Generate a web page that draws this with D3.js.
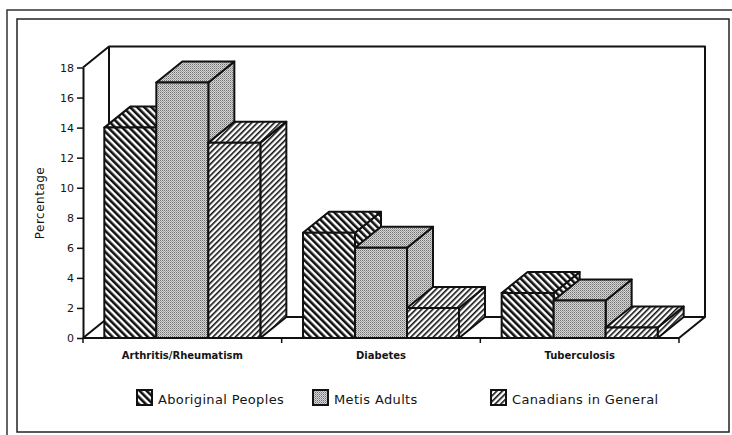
<!DOCTYPE html>
<html>
<head>
<meta charset="utf-8">
<script src="https://cdn.jsdelivr.net/npm/d3@7"></script>
<style>
    body { margin: 0; background: #fff; }
    svg { display: block; }
    text { font-family: "DejaVu Sans", Verdana, sans-serif; fill: #151515; }
</style>
</head>
<body>
<div id="my_dataviz"></div>
<script>
var categories = ["Arthritis/Rheumatism", "Diabetes", "Tuberculosis"];
var seriesNames = ["Aboriginal Peoples", "Metis Adults", "Canadians in General"];
var aboriginal = [14, 7, 3];
var metis = [17, 6, 2.5];
var canadians = [13, 2, 0.7];
var yTicks = [0, 2, 4, 6, 8, 10, 12, 14, 16, 18];

var W = 732, H = 435;
var depthX = 26, depthY = 21;   // 3d offset of the floor / bars

var svg = d3.select("#my_dataviz").append("svg")
    .attr("width", W)
    .attr("height", H);

// patterns for the fills
var defs = svg.append("defs");
function hatch(id, angle, period, thick) {
    var p = defs.append("pattern")
        .attr("id", id)
        .attr("patternUnits", "userSpaceOnUse")
        .attr("width", period)
        .attr("height", period)
        .attr("patternTransform", "rotate(" + angle + ")");
    p.append("rect").attr("width", period).attr("height", period).attr("fill", "#fff");
    p.append("rect").attr("width", thick).attr("height", period).attr("fill", "#111");
}
hatch("pat0", -45, 5, 2.6);
hatch("pat2", 45, 4, 1.6);
var dots = defs.append("pattern")
    .attr("id", "pat1")
    .attr("patternUnits", "userSpaceOnUse")
    .attr("width", 2)
    .attr("height", 2);
dots.append("rect").attr("width", 2).attr("height", 2).attr("fill", "#d6d6d6");
dots.append("rect").attr("width", 1).attr("height", 1).attr("fill", "#707070");
dots.append("rect").attr("x", 1).attr("y", 1).attr("width", 1).attr("height", 1).attr("fill", "#a0a0a0");

var fills = ["url(#pat0)", "url(#pat1)", "url(#pat2)"];

// frames
svg.append("path")
    .attr("d", "M7,436 L7,10 L733,10")
    .attr("fill", "none").attr("stroke", "#333").attr("stroke-width", 1.5);
svg.append("rect")
    .attr("x", 17).attr("y", 19).attr("width", 712).attr("height", 413)
    .attr("fill", "none").attr("stroke", "#222").attr("stroke-width", 1.5);

// scales
var x = d3.scaleBand().domain(categories).range([83, 679]).paddingInner(0).paddingOuter(0);
var xs = d3.scaleBand().domain(seriesNames).range([0, x.bandwidth()]).paddingInner(0).paddingOuter(0.41);
var y = d3.scaleLinear().domain([0, 18]).range([338, 67.5]);

var x0 = x.range()[0], x1 = x.range()[1];
var yb = y(0), yt = y(18);

// back wall + floor
var wall = svg.append("g")
    .attr("fill", "none").attr("stroke", "#111").attr("stroke-width", 2)
    .attr("stroke-linejoin", "round");
wall.append("path").attr("d",
    "M" + x0 + "," + yt + " L" + (x0 + depthX) + "," + (yt - depthY) +
    " L" + (x1 + depthX) + "," + (yt - depthY) +
    " L" + (x1 + depthX) + "," + (yb - depthY) +
    " L" + (x0 + depthX) + "," + (yb - depthY) +
    " L" + (x0 + depthX) + "," + (yt - depthY));
wall.append("path").attr("d",
    "M" + x0 + "," + yb + " L" + (x0 + depthX) + "," + (yb - depthY));
wall.append("path").attr("d",
    "M" + x1 + "," + yb + " L" + (x1 + depthX) + "," + (yb - depthY));

// 3d bars, left to right so the next bar hides the side face
var series = [aboriginal, metis, canadians];
var bars = svg.append("g")
    .attr("stroke", "#111").attr("stroke-width", 2).attr("stroke-linejoin", "round");
categories.forEach(function (c, i) {
    series.forEach(function (vals, s) {
        var bx = x(c) + xs(seriesNames[s]);
        var bw = xs.bandwidth();
        var top = y(vals[i]);
        // side face
        bars.append("path")
            .attr("fill", fills[s])
            .attr("d", "M" + (bx + bw) + "," + yb +
                " L" + (bx + bw + depthX) + "," + (yb - depthY) +
                " L" + (bx + bw + depthX) + "," + (top - depthY) +
                " L" + (bx + bw) + "," + top + " Z");
        // top face
        bars.append("path")
            .attr("fill", fills[s])
            .attr("d", "M" + bx + "," + top +
                " L" + (bx + depthX) + "," + (top - depthY) +
                " L" + (bx + bw + depthX) + "," + (top - depthY) +
                " L" + (bx + bw) + "," + top + " Z");
        // front face
        bars.append("rect")
            .attr("x", bx).attr("y", top)
            .attr("width", bw).attr("height", yb - top)
            .attr("fill", fills[s]);
    });
});

// y axis
var yAxis = svg.append("g")
    .attr("transform", "translate(" + x0 + ",0)")
    .call(d3.axisLeft(y).tickValues(yTicks).tickSize(6).tickSizeOuter(0).tickPadding(3));
yAxis.select(".domain").attr("stroke", "#111").attr("stroke-width", 2);
yAxis.selectAll(".tick line").attr("stroke", "#111").attr("stroke-width", 1.5);
yAxis.selectAll(".tick text")
    .style("font-family", "DejaVu Sans")
    .style("font-size", "11px")
    .attr("fill", "#151515");

// x axis: front edge of floor with ticks at band boundaries
svg.append("line")
    .attr("x1", x0).attr("x2", x1).attr("y1", yb).attr("y2", yb)
    .attr("stroke", "#111").attr("stroke-width", 2);
var bounds = categories.map(function (c) { return x(c); }).concat([x1]);
svg.selectAll(".xtick")
    .data(bounds)
    .enter().append("line")
    .attr("class", "xtick")
    .attr("x1", function (d) { return d; })
    .attr("x2", function (d) { return d; })
    .attr("y1", yb).attr("y2", yb + 5)
    .attr("stroke", "#111").attr("stroke-width", 1.5);
svg.selectAll(".xlabel")
    .data(categories)
    .enter().append("text")
    .attr("class", "xlabel")
    .attr("x", function (d) { return x(d) + x.bandwidth() / 2; })
    .attr("y", 359)
    .attr("text-anchor", "middle")
    .style("font-size", "10px")
    .style("font-weight", "bold")
    .text(function (d) { return d; });

// y label
svg.append("text")
    .attr("transform", "translate(44,203) rotate(-90)")
    .attr("text-anchor", "middle")
    .style("font-size", "12px")
    .style("letter-spacing", "0.5px")
    .text("Percentage");

// legend
var legendX = [137, 313, 491];
var legend = svg.selectAll(".legend")
    .data(seriesNames)
    .enter().append("g")
    .attr("class", "legend")
    .attr("transform", function (d, i) { return "translate(" + legendX[i] + ",390)"; });
legend.append("rect")
    .attr("width", 15).attr("height", 15)
    .attr("fill", function (d, i) { return fills[i]; })
    .attr("stroke", "#111").attr("stroke-width", 2);
legend.append("text")
    .attr("x", 21).attr("y", 14)
    .style("font-size", "13px")
    .style("letter-spacing", "0.35px")
    .text(function (d) { return d; });
</script>
</body>
</html>
